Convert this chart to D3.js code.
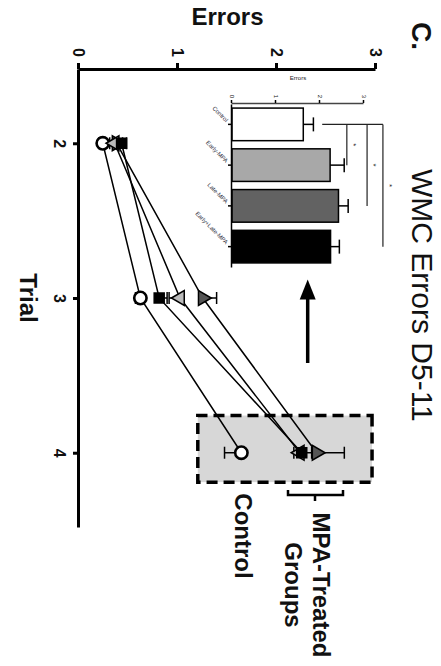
<!DOCTYPE html>
<html>
<head>
<meta charset="utf-8">
<script src="https://cdn.jsdelivr.net/npm/d3@7"></script>
<style>
  html, body { margin: 0; padding: 0; background: #fff; }
  svg { display: block; font-family: 'Liberation Sans', Arial, sans-serif; }
</style>
</head>
<body>
<svg id="chart" width="441" height="666"></svg>
<script>
// line plot: mean errors per trial (D5-11)
const trials = [2, 3, 4]
const groups = ['Control', 'Early-MPA', 'Late-MPA', 'Early+Late-MPA']
const controlMeans = [0.24, 0.62, 1.64]
const earlyMeans = [0.36, 1.02, 2.23]
const lateMeans = [0.38, 1.25, 2.4]
const bothMeans = [0.43, 0.81, 2.25]
const controlSem = [0.04, 0.05, 0.17]
const earlySem = [0.05, 0.11, 0.06]
const lateSem = [0.06, 0.14, 0.28]
const bothSem = [0.05, 0.08, 0.1]
const errorTicks = [0, 1, 2, 3]

// inset bar chart
const barMeans = [1.62, 2.23, 2.42, 2.24]
const barSem = [0.23, 0.32, 0.22, 0.2]
const sigLevels = [2.61, 3.07, 3.43]
const insetTicks = [0, 1, 2, 3]

const svg = d3.select('#chart')
// whole figure is turned a quarter turn clockwise
const frame = svg.append('g').attr('transform', 'translate(441,0) rotate(90)')

const x = d3.scaleLinear().domain([1.52, 4.48]).range([69, 527])
const y = d3.scaleLinear().domain([0, 3]).range([362, 65])
const fmt = d3.format('d')

// dashed highlight box round trial 4
frame.append('rect')
  .attr('x', x(3.76))
  .attr('width', x(4.19) - x(3.76))
  .attr('y', y(2.96))
  .attr('height', y(1.2) - y(2.96))
  .attr('fill', '#d7d7d7')
  .attr('stroke', '#000')
  .attr('stroke-width', 3.5)
  .attr('stroke-dasharray', '11,6')

// axes
const styleAxis = (g, w, size, weight) => {
  g.selectAll('path, line').attr('stroke', '#000').attr('stroke-width', w)
  g.selectAll('text').attr('font-size', size).attr('font-weight', weight)
    .attr('fill', '#111').attr('font-family', 'Liberation Sans, Arial, sans-serif')
}

frame.append('g')
  .attr('transform', `translate(${x.range()[0]},0)`)
  .call(d3.axisLeft(y).tickValues(errorTicks).tickFormat(fmt).tickSize(6).tickPadding(6).tickSizeOuter(0))
  .call((g) => styleAxis(g, 3, 16, 'bold'))

frame.append('g')
  .attr('transform', `translate(0,${y(0)})`)
  .call(d3.axisBottom(x).tickValues(trials).tickFormat(fmt).tickSize(6).tickPadding(8).tickSizeOuter(0))
  .call((g) => styleAxis(g, 3, 16, 'bold'))

frame.append('text')
  .attr('transform', `translate(25,${y(1.5)}) rotate(-90)`)
  .attr('text-anchor', 'middle')
  .attr('font-size', 24).attr('font-weight', 'bold').attr('fill', '#111')
  .text('Errors')

frame.append('text')
  .attr('x', x(3)).attr('y', 421)
  .attr('text-anchor', 'middle')
  .attr('font-size', 24).attr('font-weight', 'bold').attr('fill', '#111')
  .text('Trial')

// series
const series = [
  { means: controlMeans, sem: controlSem, dir: -1, shape: d3.symbolCircle, size: 120, fill: '#fff', turn: 0 },
  { means: lateMeans, sem: lateSem, dir: 1, shape: d3.symbolTriangle, size: 95, fill: '#555', turn: 0 },
  { means: earlyMeans, sem: earlySem, dir: -1, shape: d3.symbolTriangle, size: 95, fill: '#bbb', turn: 180 },
  { means: bothMeans, sem: bothSem, dir: 1, shape: d3.symbolSquare, size: 100, fill: '#000', turn: 0 },
]

const line = d3.line().x((d, i) => x(trials[i])).y((d) => y(d))

frame.append('g').selectAll('path')
  .data(series)
  .join('path')
  .attr('d', (s) => line(s.means))
  .attr('fill', 'none')
  .attr('stroke', '#000')
  .attr('stroke-width', 1.5)

// one-sided error bars
series.forEach((s) => {
  const g = frame.append('g').attr('stroke', '#000').attr('stroke-width', 1.5)
  s.means.forEach((m, i) => {
    const end = y(m + s.dir * s.sem[i])
    g.append('line').attr('x1', x(trials[i])).attr('x2', x(trials[i])).attr('y1', y(m)).attr('y2', end)
    g.append('line').attr('x1', x(trials[i]) - 6).attr('x2', x(trials[i]) + 6).attr('y1', end).attr('y2', end)
  })
})

series.forEach((s) => {
  frame.append('g').selectAll('path')
    .data(s.means)
    .join('path')
    .attr('transform', (d, i) => `translate(${x(trials[i])},${y(d)}) rotate(${s.turn})`)
    .attr('d', d3.symbol(s.shape, s.size))
    .attr('fill', s.fill)
    .attr('stroke', '#000')
    .attr('stroke-width', s.shape === d3.symbolCircle ? 2.6 : 1.5)
})

// arrow pointing at the inset
const ay = y(2.31)
frame.append('line')
  .attr('x1', x(3.42)).attr('x2', x(2.98))
  .attr('y1', ay).attr('y2', ay)
  .attr('stroke', '#000').attr('stroke-width', 3.5)
frame.append('path')
  .attr('d', `M${x(2.88)},${ay} L${x(2.88) + 20},${ay - 8} L${x(2.88) + 20},${ay + 8} Z`)
  .attr('fill', '#000')

// labels near box
const lab = (t, px, py, size, weight) => frame.append('text')
  .attr('x', px).attr('y', py)
  .attr('text-anchor', 'middle')
  .attr('font-size', size).attr('font-weight', weight).attr('fill', '#111')
  .text(t)

lab('Control', 536, 206, 24, 'bold')
lab('MPA-Treated', 585, 128, 24, 'bold')
lab('Groups', 585, 156, 24, 'bold')

frame.append('path')
  .attr('d', 'M490,98 L495,98 L495,153 L490,153 M495,126 L501,126')
  .attr('fill', 'none').attr('stroke', '#000').attr('stroke-width', 2.5)

frame.append('text')
  .attr('x', 169).attr('y', 29)
  .attr('font-size', 30).attr('fill', '#111')
  .text('WMC Errors D5-11')

frame.append('text')
  .attr('x', 22).attr('y', 29)
  .attr('font-size', 28).attr('font-weight', 'bold').attr('fill', '#111')
  .text('C.')

// inset bar chart
const ix = d3.scaleBand().domain(groups).range([104, 267]).paddingInner(0.2).paddingOuter(0.1)
const iy = d3.scaleLinear().domain([0, 3]).range([209, 77])
const barColors = ['#ffffff', '#a8a8a8', '#626262', '#000000']

const inset = frame.append('g')

inset.selectAll('rect')
  .data(barMeans)
  .join('rect')
  .attr('x', (d, i) => ix(groups[i]))
  .attr('width', ix.bandwidth())
  .attr('y', (d) => iy(d))
  .attr('height', (d) => iy(0) - iy(d))
  .attr('fill', (d, i) => barColors[i])
  .attr('stroke', '#000')
  .attr('stroke-width', 1.5)

barMeans.forEach((m, i) => {
  const cx = ix(groups[i]) + ix.bandwidth() / 2
  const top = iy(m + barSem[i])
  inset.append('line').attr('x1', cx).attr('x2', cx).attr('y1', iy(m)).attr('y2', top)
    .attr('stroke', '#000').attr('stroke-width', 1.5)
  inset.append('line').attr('x1', cx - 7).attr('x2', cx + 7).attr('y1', top).attr('y2', top)
    .attr('stroke', '#000').attr('stroke-width', 1.5)
})

inset.append('g')
  .attr('transform', 'translate(103,0)')
  .call(d3.axisLeft(iy).tickValues(insetTicks).tickFormat(fmt).tickSize(3).tickPadding(2).tickSizeOuter(0))
  .call((g) => styleAxis(g, 1.5, 6, 'normal'))
  .call((g) => g.select('.domain').attr('stroke', '#444'))

inset.append('g')
  .attr('transform', `translate(0,${iy(0)})`)
  .call(d3.axisBottom(ix).tickSize(4).tickPadding(3).tickSizeOuter(0))
  .call((g) => styleAxis(g, 1.5, 6, 'normal'))
  .call((g) => g.selectAll('text')
    .attr('text-anchor', 'end')
    .attr('dy', '0.35em')
    .attr('transform', 'rotate(-45) translate(-6,-6)')
    .attr('fill', '#334'))

inset.append('text')
  .attr('transform', `translate(80,${iy(1.5)}) rotate(-90)`)
  .attr('text-anchor', 'middle')
  .attr('font-size', 6).attr('fill', '#222')
  .text('Errors')

// significance comb: control vs each MPA group
const c0 = ix('Control') + ix.bandwidth() / 2
const sig = inset.append('g').attr('stroke', '#222').attr('stroke-width', 1.2)
sig.append('line').attr('x1', c0).attr('x2', c0)
  .attr('y1', iy(barMeans[0] + barSem[0] + 0.2)).attr('y2', iy(d3.max(sigLevels)))
sigLevels.forEach((lv, i) => {
  const cx = ix(groups[i + 1]) + ix.bandwidth() / 2
  sig.append('line').attr('x1', c0).attr('x2', cx).attr('y1', iy(lv)).attr('y2', iy(lv))
  inset.append('text')
    .attr('x', (c0 + cx) / 2).attr('y', iy(lv) - 4)
    .attr('text-anchor', 'middle')
    .attr('font-size', 8).attr('fill', '#222')
    .text('*')
})
</script>
</body>
</html>
